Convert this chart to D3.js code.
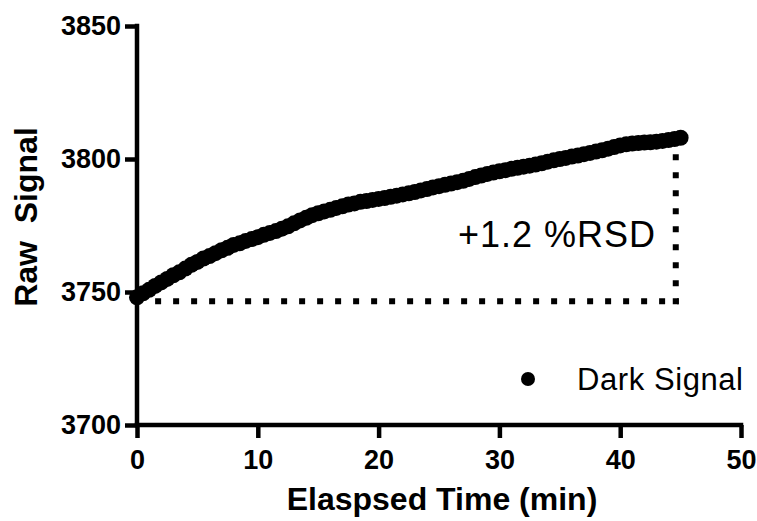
<!DOCTYPE html>
<html>
<head>
<meta charset="utf-8">
<script src="https://cdn.jsdelivr.net/npm/d3@7"></script>
<style>
  html, body { margin: 0; padding: 0; background: #fff; }
  svg { display: block; }
  text { font-family: "Liberation Sans", Arial, Helvetica, sans-serif; fill: #000; }
</style>
</head>
<body>
<svg id="chart" width="757" height="521"></svg>
<script>
// ---- data ----
const timeStep = 0.5; // minutes between readings
const darkSignal = [
  3748.0, 3749.5, 3750.8, 3752.3, 3753.6, 3754.9, 3756.3, 3757.4, 3758.8, 3760.2,
  3761.3, 3762.6, 3763.5, 3764.6, 3765.7, 3766.6, 3767.7, 3768.3, 3769.2, 3769.9,
  3770.6, 3771.5, 3772.2, 3772.9, 3773.8, 3774.7, 3775.8, 3776.9, 3777.9, 3778.9,
  3779.6, 3780.3, 3780.9, 3781.6, 3782.2, 3782.9, 3783.3, 3783.9, 3784.2, 3784.6,
  3785.0, 3785.3, 3785.8, 3786.2, 3786.7, 3787.1, 3787.6, 3788.2, 3788.7, 3789.3,
  3789.8, 3790.3, 3790.8, 3791.3, 3791.8, 3792.5, 3793.2, 3793.8, 3794.4, 3794.9,
  3795.4, 3795.8, 3796.3, 3796.7, 3797.1, 3797.5, 3797.9, 3798.4, 3799.0, 3799.5,
  3800.0, 3800.4, 3800.9, 3801.3, 3801.8, 3802.3, 3802.8, 3803.3, 3803.9, 3804.5,
  3805.1, 3805.5, 3805.8, 3806.0, 3806.2, 3806.3, 3806.5, 3806.8, 3807.1, 3807.5,
  3808.0
];
const xTicks = [0, 10, 20, 30, 40, 50];
const yTicks = [3700, 3750, 3800, 3850];
const xDomain = [0, 50];
const yDomain = [3700, 3850];
// annotation (dotted bracket)
const rsdStart = 1.5, rsdTime = 44.6, rsdBase = 3746.5, rsdTop = 3806.5;
const rsdLabel = "+1.2 %RSD";
const legendLabel = "Dark Signal";
const xTitle = "Elaspsed Time (min)";
const yTitle = "Raw  Signal";

// ---- drawing ----
const svg = d3.select("#chart");
const x = d3.scaleLinear().domain(xDomain).range([137, 741]);
const y = d3.scaleLinear().domain(yDomain).range([425, 26]);

const AXW = 4.5;
const fmt = d3.format("d");
const xAxis = svg.append("g").attr("transform", "translate(0,425)")
  .call(d3.axisBottom(x).tickValues(xTicks).tickFormat(fmt).tickSize(13).tickPadding(12).tickSizeOuter(0));
const yAxis = svg.append("g").attr("transform", "translate(137,0)")
  .call(d3.axisLeft(y).tickValues(yTicks).tickFormat(fmt).tickSize(12).tickPadding(4).tickSizeOuter(0));
[xAxis, yAxis].forEach(g => {
  g.select(".domain").attr("stroke", "#000").attr("stroke-width", AXW);
  g.selectAll(".tick line").attr("stroke", "#000").attr("stroke-width", AXW);
  g.selectAll(".tick text").attr("fill", "#000")
    .style("font-family", '"Liberation Sans", Arial, sans-serif')
    .style("font-size", "27px").style("font-weight", "bold");
});
// extend domain lines to cover the corner
xAxis.select(".domain").attr("d", `M${137 - AXW/2},0H${741 + AXW/2}`);
yAxis.select(".domain").attr("d", `M0,${26 - AXW/2}V${425 + AXW/2}`);

// dotted bracket
svg.append("line")
  .attr("x1", x(rsdStart)).attr("x2", x(rsdTime) + 3)
  .attr("y1", y(rsdBase)).attr("y2", y(rsdBase))
  .attr("stroke", "#000").attr("stroke-width", 6).attr("stroke-dasharray", "6,12");
svg.append("line")
  .attr("x1", x(rsdTime)).attr("x2", x(rsdTime))
  .attr("y1", y(rsdBase) + 3).attr("y2", y(rsdTop))
  .attr("stroke", "#000").attr("stroke-width", 6).attr("stroke-dasharray", "6,12");

// data points
svg.append("g").selectAll("circle").data(darkSignal).join("circle")
  .attr("cx", (d, i) => x(i * timeStep))
  .attr("cy", d => y(d))
  .attr("r", 8)
  .attr("fill", "#000");

// annotation text
svg.append("text").attr("x", 458).attr("y", 247)
  .style("font-size", "36px").attr("textLength", 197).attr("lengthAdjust", "spacing")
  .text(rsdLabel);

// legend
svg.append("circle").attr("cx", 528).attr("cy", 379).attr("r", 7).attr("fill", "#000");
svg.append("text").attr("x", 577).attr("y", 390)
  .style("font-size", "31px").attr("textLength", 166).attr("lengthAdjust", "spacing")
  .text(legendLabel);

// axis titles
svg.append("text").attr("x", 442).attr("y", 510).attr("text-anchor", "middle")
  .style("font-size", "32px").style("font-weight", "bold")
  .text(xTitle);
svg.append("text").attr("transform", "translate(37,217) rotate(-90)")
  .attr("text-anchor", "middle")
  .style("font-size", "32px").style("font-weight", "bold")
  .style("white-space", "pre")
  .text(yTitle);
</script>
</body>
</html>
